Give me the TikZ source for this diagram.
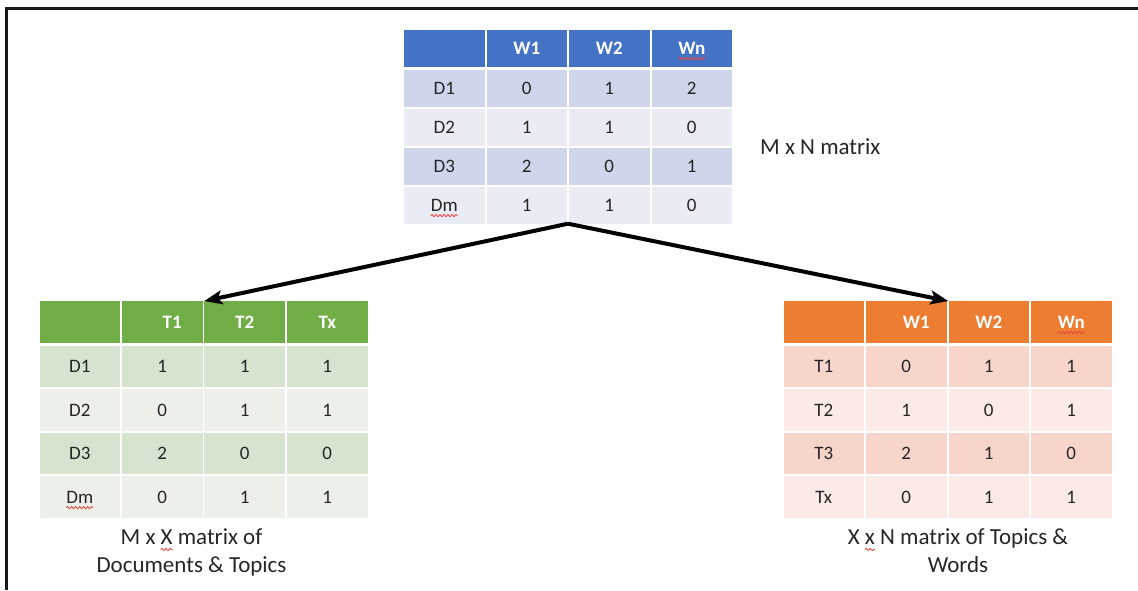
\documentclass[tikz,border=0pt]{standalone}
\usepackage{fontspec}
\setmainfont{Carlito}
\usepackage{tikz}
\usetikzlibrary{matrix, positioning, arrows.meta, decorations.pathmorphing}

\definecolor{blueHead}{HTML}{4472C4}
\definecolor{blueDark}{HTML}{CFD5EA}
\definecolor{blueLight}{HTML}{E9EBF5}
\definecolor{greenHead}{HTML}{70AD47}
\definecolor{greenDark}{HTML}{D5E3CF}
\definecolor{greenLight}{HTML}{EBF1E9}
\definecolor{orangeHead}{HTML}{ED7D31}
\definecolor{orangeDark}{HTML}{F8D5CA}
\definecolor{orangeLight}{HTML}{FBEAE6}
\definecolor{spellred}{HTML}{E8453C}

% red wavy underline under a word
\newlength{\wavewd}
\newcommand{\spellwave}[1]{\settowidth{\wavewd}{#1}%
  \rlap{\tikz[overlay, baseline=0pt]\draw[spellred, line width=0.8pt, decorate,
    decoration={snake, amplitude=1.2pt, segment length=4pt}] (0pt,-4.5pt) -- (\wavewd,-4.5pt);}#1}

\tikzset{
  cell/.style={minimum width=80.5pt, inner sep=0pt, anchor=center, text=black!85,
    font=\fontsize{19}{23}\selectfont},
  head/.style={text=white, font=\fontsize{19}{23}\selectfont\bfseries},
  tab/.style n args={4}{%
    matrix of nodes, nodes in empty cells,
    inner sep=0pt, column sep=2pt, row sep=2pt,
    nodes={cell, minimum height=#4, fill=#3},
    row 1/.style={nodes={head, fill=#1}},
    row 2/.style={nodes={fill=#2}},
    row 4/.style={nodes={fill=#2}}},
  caption/.style={font=\fontsize{23}{28}\selectfont, align=center, inner sep=0pt, text=black!85},
  split/.style={->, line width=4pt},
}

\begin{document}
\begin{tikzpicture}[x=1pt, y=-1pt, >={Stealth[length=18pt, width=14pt, inset=4pt]}]
  \useasboundingbox (0,0) rectangle (1138,590);
  \draw[line width=2.5pt, black!90] (6.5,590) |- (1138,8.5);

  \matrix (docword) at (568,126.5) [tab={blueHead}{blueDark}{blueLight}{37pt}]
    {
          & W1 & W2 & \spellwave{Wn} \\[1pt]
      D1  & 0  & 1  & 2  \\
      D2  & 1  & 1  & 0  \\
      D3  & 2  & 0  & 1  \\
      \spellwave{Dm} & 1 & 1 & 0 \\
    };
  \node[caption, anchor=base west] (mxn) at (760,154) {M x N matrix};

  \matrix (doctopic) at (203.5,409.5) [tab={greenHead}{greenDark}{greenLight}{41.5pt}]
    {
          & \hspace*{20pt}T1 & T2 & Tx \\[1pt]
      D1  & 1  & 1  & 1  \\
      D2  & 0  & 1  & 1  \\
      D3  & 2  & 0  & 0  \\
      \spellwave{Dm} & 0 & 1 & 1 \\
    };
  \node[caption, below=11pt of doctopic, xshift=-12pt] (mxx)
    {M x \spellwave{X} matrix of\\Documents \& Topics};

  \matrix (topicword) at (947.5,409.5) [tab={orangeHead}{orangeDark}{orangeLight}{41.5pt}]
    {
          & \hspace*{20pt}W1 & W2 & \spellwave{Wn} \\[1pt]
      T1  & 0  & 1  & 1  \\
      T2  & 1  & 0  & 1  \\
      T3  & 2  & 1  & 0  \\
      Tx  & 0  & 1  & 1  \\
    };
  \node[caption, below=11pt of topicword, xshift=10.5pt] (xxn)
    {X \spellwave{x} N matrix of Topics \&\\Words};

  \draw[split] (docword.south) -- (doctopic-1-3.north west);
  \draw[split] (docword.south) -- (topicword-1-3.north west);
\end{tikzpicture}
\end{document}
